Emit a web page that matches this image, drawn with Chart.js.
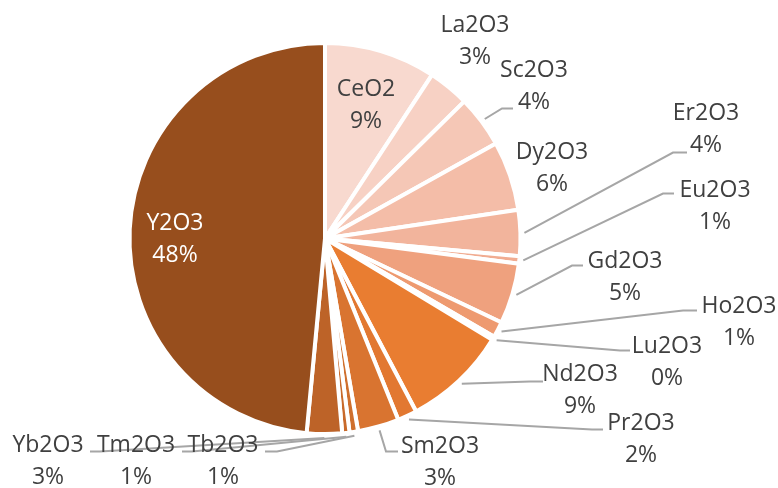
<!DOCTYPE html>
<html>
<head>
<meta charset="utf-8">
<script src="https://cdn.jsdelivr.net/npm/chart.js@4/dist/chart.umd.min.js"></script>
<style>
  html, body { margin: 0; padding: 0; background: #ffffff; }
  #wrap { width: 778px; height: 488px; position: relative; }
</style>
</head>
<body>
<div id="wrap"><canvas id="c" width="778" height="488"></canvas></div>
<script>
// ---- data ----
const categories = ['CeO2','La2O3','Sc2O3','Dy2O3','Er2O3','Eu2O3','Gd2O3','Ho2O3','Lu2O3','Nd2O3','Pr2O3','Sm2O3','Tb2O3','Tm2O3','Yb2O3','Y2O3'];
const shares     = [9.2, 3.4, 4.3, 5.7, 3.8, 0.6, 5.0, 1.3, 0.3, 8.6, 1.6, 3.4, 0.7, 0.6, 2.9, 48.4];

// ---- styles ----
const sliceColors = ['#F8D9CF','#F7D1C4','#F5C7B6','#F4BDA8','#F2B49C','#F1AC91','#EFA17E','#EE9A70','#EC8F5E','#E97D31','#E27831','#D97430','#CF6F2D','#C86A2B','#BD6328','#974E1D'];

// label layout: text centre (dx,dy) from pie centre; optional leader elbow & end (dx,dy)
const labelLayout = [
  {t:[41,-151],   c:'#404040'},
  {t:[150,-215],  c:'#404040'},
  {t:[209,-170],  c:'#404040', e:[177,-130], h:[188,-130]},
  {t:[227,-88],   c:'#404040'},
  {t:[381,-127],  c:'#404040', e:[348,-86],  h:[362,-86]},
  {t:[390,-50],   c:'#404040', e:[338,-45],  h:[349,-45]},
  {t:[300,21],    c:'#404040', e:[247,27],   h:[258,27]},
  {t:[414,66],    c:'#404040', e:[358,72],   h:[372,72]},
  {t:[342,106],   c:'#404040', e:[295,112],  h:[305,112]},
  {t:[255,134],   c:'#404040', e:[205,143],  h:[218,143]},
  {t:[316,183],   c:'#404040', e:[267,191],  h:[278,191]},
  {t:[115,206],   c:'#404040', e:[61,213],   h:[73,213]},
  {t:[-102,205],  c:'#404040', e:[-48,213],  h:[-60,213]},
  {t:[-189,205],  c:'#404040', e:[-133,213], h:[-143,213]},
  {t:[-277,205],  c:'#404040', e:[-225,213], h:[-235,213]},
  {t:[-150,-17],  c:'#FFFFFF'}
];

const FONT_SIZE = 23;
const LINE_GAP = 32;

const total = shares.reduce((a,b)=>a+b,0);

const labelPlugin = {
  id: 'pieLabels',
  afterDatasetsDraw(chart) {
    const ctx = chart.ctx;
    const meta = chart.getDatasetMeta(0);
    ctx.save();
    // leader lines
    ctx.strokeStyle = '#A6A6A6';
    ctx.lineWidth = 2;
    ctx.lineJoin = 'miter';
    meta.data.forEach((arc, i) => {
      const L = labelLayout[i];
      if (!L.e) return;
      const p = arc.getProps(['x','y','startAngle','endAngle','outerRadius'], true);
      const mid = (p.startAngle + p.endAngle) / 2;
      const r = p.outerRadius + 4;
      const sx = p.x + Math.cos(mid) * r;
      const sy = p.y + Math.sin(mid) * r;
      ctx.beginPath();
      ctx.moveTo(sx, sy);
      ctx.lineTo(p.x + L.e[0], p.y + L.e[1]);
      ctx.lineTo(p.x + L.h[0], p.y + L.h[1]);
      ctx.stroke();
    });
    // text
    ctx.font = FONT_SIZE + 'px "Open Sans"';
    ctx.textAlign = 'center';
    ctx.textBaseline = 'alphabetic';
    const capHalf = FONT_SIZE * 0.357;
    meta.data.forEach((arc, i) => {
      const L = labelLayout[i];
      const p = arc.getProps(['x','y'], true);
      const pct = Math.round(shares[i] / total * 100) + '%';
      ctx.fillStyle = L.c;
      const x = p.x + L.t[0];
      const y = p.y + L.t[1];
      ctx.fillText(categories[i], x, y + capHalf);
      ctx.fillText(pct, x, y + LINE_GAP + capHalf);
    });
    ctx.restore();
  }
};

new Chart(document.getElementById('c'), {
  type: 'pie',
  data: {
    labels: categories,
    datasets: [{
      data: shares,
      backgroundColor: sliceColors,
      borderColor: '#FFFFFF',
      borderWidth: 4
    }]
  },
  options: {
    responsive: false,
    animation: false,
    layout: { padding: { left: 127.5, right: 255.5, top: 41, bottom: 52 } },
    plugins: {
      legend: { display: false },
      tooltip: { enabled: false }
    }
  },
  plugins: [labelPlugin]
});
</script>
</body>
</html>
